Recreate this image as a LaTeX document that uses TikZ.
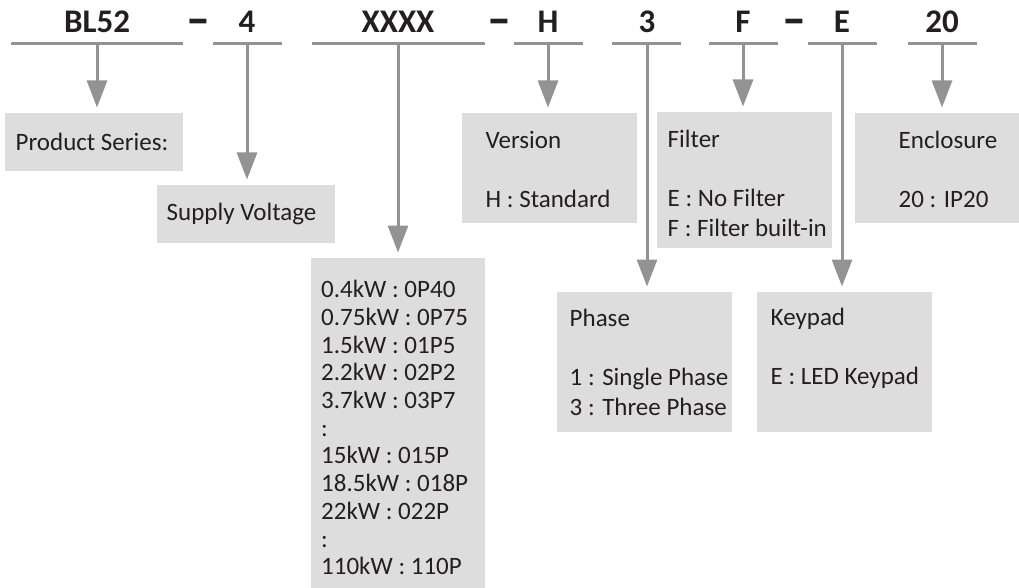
\documentclass[tikz,border=0pt]{standalone}
\usepackage{fontspec}
\usepackage{graphicx}
\setmainfont{Carlito}
\usetikzlibrary{arrows.meta}
\definecolor{txt}{HTML}{231F20}
\definecolor{ln}{HTML}{939393}
\definecolor{bx}{HTML}{DDDDDD}
\begin{document}
\begin{tikzpicture}[x=1pt,y=-1pt,
 hdr/.style={anchor=base, inner sep=0pt, text=txt, font=\fontsize{33}{36}\selectfont\bfseries},
 dsh/.style={hdr, font=\fontsize{33}{36}\selectfont\bfseries},
 bar/.style={draw=ln, line width=3.3pt},
 conn/.style={draw=ln, line width=3pt, -{Triangle[width=20pt,length=27pt]}, shorten >=5.5pt},
 box/.style={fill=bx, draw=none, inner sep=0pt, anchor=north west},
 lbl/.style={anchor=west, inner sep=0pt, align=left, text=txt, font=\fontsize{25}{29.5}\selectfont},
]
\useasboundingbox (0,0) rectangle (1019,588);

% header codes
\node[hdr] (hBL) at (97,33) {BL52};
\node[dsh] (d1) at (198,37) {\scalebox{1.45}[1.6]{–}};
\node[hdr] (h4) at (247,33) {4};
\node[hdr] (hX) at (398,33) {XXXX};
\node[dsh] (d2) at (499,37) {\scalebox{1.45}[1.6]{–}};
\node[hdr] (hH) at (548,33) {H};
\node[hdr] (h3) at (647,33) {3};
\node[hdr] (hF) at (743,33) {F};
\node[dsh] (d3) at (794.5,37) {\scalebox{1.45}[1.6]{–}};
\node[hdr] (hE) at (842,33) {E};
\node[hdr] (h20) at (942,33) {20};

% underlines
\draw[bar] (11,43.3) -- (183,43.3);
\draw[bar] (213,43.3) -- (282,43.3);
\draw[bar] (312,43.3) -- (485,43.3);
\draw[bar] (514,43.3) -- (583,43.3);
\draw[bar] (612,43.3) -- (681,43.3);
\draw[bar] (709,43.3) -- (778,43.3);
\draw[bar] (808,43.3) -- (877,43.3);
\draw[bar] (908,43.3) -- (977,43.3);

\coordinate (cBL) at (97,43);
\coordinate (c4) at (247,43);
\coordinate (cX) at (398,43);
\coordinate (cH) at (548,43);
\coordinate (c3) at (647,43);
\coordinate (cF) at (743,43);
\coordinate (cE) at (842,43);
\coordinate (c20) at (942,43);

% boxes
\node[box, minimum width=178pt, minimum height=58pt] (bPS) at (5,113) {};
\node[box, minimum width=178pt, minimum height=58pt] (bSV) at (157,185) {};
\node[box, minimum width=174pt, minimum height=330pt] (bPW) at (311,258) {};
\node[box, minimum width=175pt, minimum height=110pt] (bVer) at (462,113) {};
\node[box, minimum width=175pt, minimum height=136pt] (bFil) at (657,112) {};
\node[box, minimum width=164pt, minimum height=110pt] (bEnc) at (855,113) {};
\node[box, minimum width=175pt, minimum height=140pt] (bPh) at (557,292) {};
\node[box, minimum width=175pt, minimum height=140pt] (bKey) at (757,292) {};

% texts
\node[lbl, xshift=10.5pt] (tPS) at (bPS.west) {Product Series:};
\node[lbl, xshift=9.5pt] (tSV) at (bSV.west) {Supply Voltage};
\node[lbl, xshift=10pt, yshift=-4.5pt, font=\fontsize{25}{27.7}\selectfont] (tPW) at (bPW.west) {0.4kW : 0P40\\0.75kW : 0P75\\1.5kW : 01P5\\2.2kW : 02P2\\3.7kW : 03P7\\:\\15kW : 015P\\18.5kW : 018P\\22kW : 022P\\:\\110kW : 110P};
\node[lbl, xshift=23.5pt, yshift=-1pt] (tVer) at (bVer.west) {Version\\~\\H : Standard};
\node[lbl, xshift=10.5pt, yshift=-3pt] (tFil) at (bFil.west) {Filter\\~\\E : No Filter\\F : Filter built-in};
\node[lbl, xshift=43.5pt, yshift=-1pt] (tEnc) at (bEnc.west) {Enclosure\\~\\20 : IP20};
\node[lbl, xshift=12.5pt] (tPh) at (bPh.west) {Phase\\~\\1 : Single Phase\\3 : Three Phase};
\node[lbl, xshift=13.5pt, yshift=13.5pt] (tKey) at (bKey.west) {Keypad\\~\\E : LED Keypad};

% connectors
\draw[conn] (cBL) -- (cBL |- bPS.north);
\draw[conn] (c4) -- (c4 |- bSV.north);
\draw[conn] (cX) -- (cX |- bPW.north);
\draw[conn] (cH) -- (cH |- bVer.north);
\draw[conn] (c3) -- (c3 |- bPh.north);
\draw[conn] (cF) -- (cF |- bFil.north);
\draw[conn] (cE) -- (cE |- bKey.north);
\draw[conn] (c20) -- (c20 |- bEnc.north);
\end{tikzpicture}
\end{document}
